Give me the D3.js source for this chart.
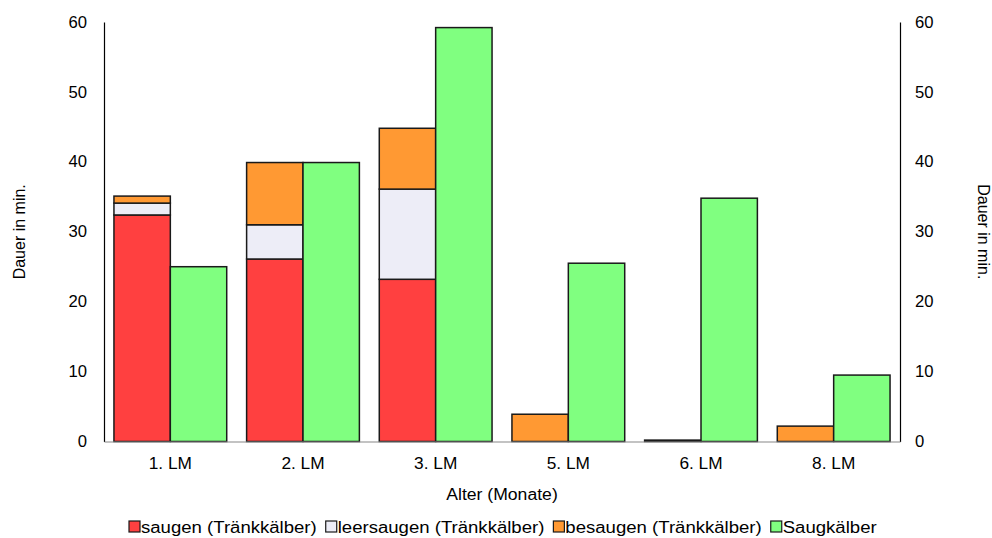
<!DOCTYPE html>
<html><head><meta charset="utf-8">
<script src="https://cdn.jsdelivr.net/npm/d3@7"></script>
<style>body{margin:0;background:#fff}svg{display:block}text{font-family:"Liberation Sans",Arial,sans-serif;fill:#000}</style>
</head><body><svg id="c" width="992" height="538"></svg>
<script>
const categories = ["1. LM","2. LM","3. LM","5. LM","6. LM","8. LM"];
const saugen = [32.4, 26.1, 23.2, 0, 0, 0];
const leersaugen = [1.7, 4.9, 12.9, 0, 0, 0];
const besaugen = [1.0, 8.9, 8.7, 3.9, 0.2, 2.2];
const saugkaelber = [25.0, 39.9, 59.2, 25.5, 34.8, 9.5];
const yTicks = [0,10,20,30,40,50,60];
const seriesNames = ["saugen (Tränkkälber)","leersaugen (Tränkkälber)","besaugen (Tränkkälber)","Saugkälber"];
const colors = ["#FF4040","#EDEDF7","#FF9933","#80FF80"];

const svg = d3.select("#c");
const L = 104, R = 900, T = 22, B = 441.5;
const x = d3.scaleBand().domain(categories).range([L,R]).paddingInner(0.15).paddingOuter(0.075);
const y = d3.scaleLinear().domain([0,60]).range([B,T]);
const half = x.bandwidth()/2;
const FS = 16;

function widen(sel, f){
  sel.each(function(){
    d3.select(this).attr("textLength", this.getComputedTextLength()*f).attr("lengthAdjust","spacingAndGlyphs");
  });
}

// stacked bars
const stackData = categories.map((c,i)=>({cat:c, s0:saugen[i], s1:leersaugen[i], s2:besaugen[i]}));
const stack = d3.stack().keys(["s0","s1","s2"])(stackData);
stack.forEach((layer,k)=>{
  svg.append("g").selectAll("rect").data(layer.filter(d=>d[1]-d[0]>0)).join("rect")
    .attr("x", d=>x(d.data.cat))
    .attr("width", half)
    .attr("y", d=>y(d[1]))
    .attr("height", d=>y(d[0])-y(d[1]))
    .attr("fill", colors[k]).attr("stroke","#1a1a1a").attr("stroke-width",1.5);
});
svg.append("g").selectAll("rect").data(categories.map((c,i)=>({cat:c,v:saugkaelber[i]}))).join("rect")
  .attr("x", d=>x(d.cat)+half)
  .attr("width", half)
  .attr("y", d=>y(d.v))
  .attr("height", d=>B-y(d.v))
  .attr("fill", colors[3]).attr("stroke","#1a1a1a").attr("stroke-width",1.5);

// axes
const yl = svg.append("g").attr("transform",`translate(${L},0)`).call(d3.axisLeft(y).tickValues(yTicks).tickSize(0).tickPadding(17));
const yr = svg.append("g").attr("transform",`translate(${R},0)`).call(d3.axisRight(y).tickValues(yTicks).tickSize(0).tickPadding(15));
const xa = svg.append("g").attr("transform",`translate(0,${B})`).call(d3.axisBottom(x).tickSize(0).tickPadding(16));
[yl,yr,xa].forEach(g=>{
  g.selectAll("text").attr("font-size",FS).attr("font-family","Liberation Sans, Arial, sans-serif");
  g.select(".domain").attr("stroke","#000").attr("stroke-width",1.2);
});
widen(xa.selectAll("text"), 1.08);
widen(yl.selectAll("text"), 1.04);
widen(yr.selectAll("text"), 1.04);
xa.select(".domain").attr("stroke","#888");

// titles
svg.append("text").attr("transform",`translate(25,${(T+B)/2}) rotate(-90)`).attr("text-anchor","middle").attr("font-size",FS).text("Dauer in min.");
svg.append("text").attr("transform",`translate(978,${(T+B)/2}) rotate(90)`).attr("text-anchor","middle").attr("font-size",FS).text("Dauer in min.");
const xt = svg.append("text").attr("x",(L+R)/2).attr("y",500).attr("text-anchor","middle").attr("font-size",FS).text("Alter (Monate)");
widen(xt, 1.1);

// legend
const lg = svg.append("g");
let lx = 129;
seriesNames.forEach((n,i)=>{
  lg.append("rect").attr("x",lx).attr("y",521).attr("width",11).attr("height",11).attr("fill",colors[i]).attr("stroke","#1a1a1a").attr("stroke-width",1.2);
  const t = lg.append("text").attr("x",lx+12).attr("y",532.5).attr("font-size",FS);
  t.text(n);
  const w = t.node().getComputedTextLength()*1.16;
  t.attr("textLength",w).attr("lengthAdjust","spacingAndGlyphs");
  lx += 12 + w + 9;
});
</script></body></html>
